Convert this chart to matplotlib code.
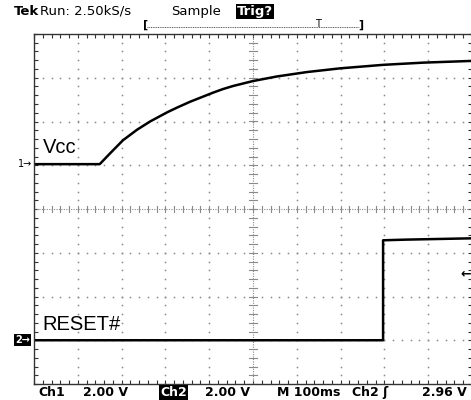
import numpy as np
import matplotlib
matplotlib.use('Agg')
import matplotlib.pyplot as plt

W, H = 471, 400

# time in ms, voltage in V (2 V/div, 100 ms/div)
vcc_t = [0, 150, 174, 203, 235, 265, 304, 326, 356, 409, 431, 454, 500, 555, 623, 699, 797, 888, 1000]
vcc_v = [0.05, 0.05, 0.55, 1.14, 1.62, 2.0, 2.42, 2.63, 2.9, 3.32, 3.48, 3.62, 3.85, 4.06, 4.26, 4.43, 4.59, 4.69, 4.77]
rst_t = [0, 797, 797, 850, 1000]
rst_v = [0.0, 0.0, 4.57, 4.6, 4.66]
ch1_offset = 1.0   # divisions
ch2_offset = -3.0
volts_per_div = 2.0
trig_level = 2.96


def px(x, y):
    return x / W, 1 - y / H


fig = plt.figure(figsize=(W / 100, H / 100), dpi=100)
ax = fig.add_axes([34 / W, 16 / H, 438 / W, 350 / H])
ax.set_xlim(0, 1000)
ax.set_ylim(-4, 4)

# graticule dots
grid_c = '#8a8a8a'
for k in range(1, 10):
    if k == 5:
        continue
    yy = np.arange(-4, 4.01, 0.2)
    ax.plot(np.full_like(yy, k * 100), yy, ls='none', marker='s', ms=1.1, mew=0, color=grid_c)
for k in range(-3, 4):
    if k == 0:
        continue
    xx = np.arange(0, 1001, 20)
    ax.plot(xx, np.full_like(xx, k, dtype=float), ls='none', marker='s', ms=1.1, mew=0, color=grid_c)

# centre cross with ticks
ax.axhline(0, color=grid_c, lw=0.8, ls=(0, (1, 1.2)))
ax.axvline(500, color=grid_c, lw=0.8, ls=(0, (1, 1.2)))
for xx in np.arange(0, 1001, 20):
    ax.plot([xx, xx], [-0.07, 0.07], color=grid_c, lw=0.8)
for yy in np.arange(-4, 4.01, 0.2):
    ax.plot([490, 510], [yy, yy], color=grid_c, lw=0.8)

ax.set_xticks(np.arange(0, 1001, 100))
ax.set_xticks(np.arange(0, 1001, 20), minor=True)
ax.set_yticks(np.arange(-4, 4.01, 1))
ax.set_yticks(np.arange(-4, 4.01, 0.2), minor=True)
ax.tick_params(which='both', direction='in', top=True, right=True,
               labelbottom=False, labelleft=False, length=3, width=0.8, color='#333333')
for s in ax.spines.values():
    s.set_color('#333333')
    s.set_linewidth(1.0)

# traces
ax.plot(vcc_t, [ch1_offset + v / volts_per_div for v in vcc_v], color='black', lw=1.8)
ax.plot(rst_t, [ch2_offset + v / volts_per_div for v in rst_v], color='black', lw=1.8)

ax.text(20, ch1_offset + 0.28, 'Vcc', fontsize=14.5, family='Liberation Sans', va='baseline')
ax.text(20, ch2_offset + 0.23, 'RESET#', fontsize=14.5, family='Liberation Sans', va='baseline')

# channel markers
fig.text(*px(18, 164), '1\u2192', fontsize=7, va='center', ha='left')
fig.text(*px(15, 340), '2\u2192', fontsize=7, va='center', ha='left', color='white',
         fontweight='bold', bbox=dict(boxstyle='square,pad=0.1', fc='black', ec='none'))
fig.text(*px(471, 274), '\u2190', fontsize=9, va='center', ha='right', fontweight='bold')

# header
hf = dict(fontsize=9.5, va='baseline', family='DejaVu Sans')
fig.text(*px(14, 15), 'Tek', fontweight='bold', **hf)
fig.text(*px(40, 15), 'Run: 2.50kS/s', **hf)
fig.text(*px(171, 15), 'Sample', **hf)
fig.text(*px(237, 15), 'Trig?', color='white', fontweight='bold',
         bbox=dict(boxstyle='square,pad=0.1', fc='black', ec='none'), **hf)
fig.text(*px(143, 25), '[', fontsize=8, va='center', fontweight='bold')
fig.text(*px(363, 25), ']', fontsize=8, va='center', ha='right', fontweight='bold')
fig.text(*px(318, 24), 'T', fontsize=7, va='center', ha='center')
fig.add_artist(plt.Line2D([147 / W, 359 / W], [1 - 27 / H, 1 - 27 / H],
                          color='#555555', lw=0.7, ls=(0, (1, 0.8))))

# footer
ff = dict(fontsize=9, va='baseline', family='DejaVu Sans', fontweight='bold')
fig.text(*px(38, 396), 'Ch1', **ff)
fig.text(*px(83, 396), '2.00 V', **ff)
fig.text(*px(160, 396), 'Ch2', color='white',
         bbox=dict(boxstyle='square,pad=0.1', fc='black', ec='none'), **ff)
fig.text(*px(205, 396), '2.00 V', **ff)
fig.text(*px(277, 396), 'M 100ms', **ff)
fig.text(*px(352, 396), 'Ch2 \u0283', **ff)
fig.text(*px(467, 396), f'{trig_level:.2f} V', ha='right', **ff)

fig.savefig('out.png', dpi=100)
